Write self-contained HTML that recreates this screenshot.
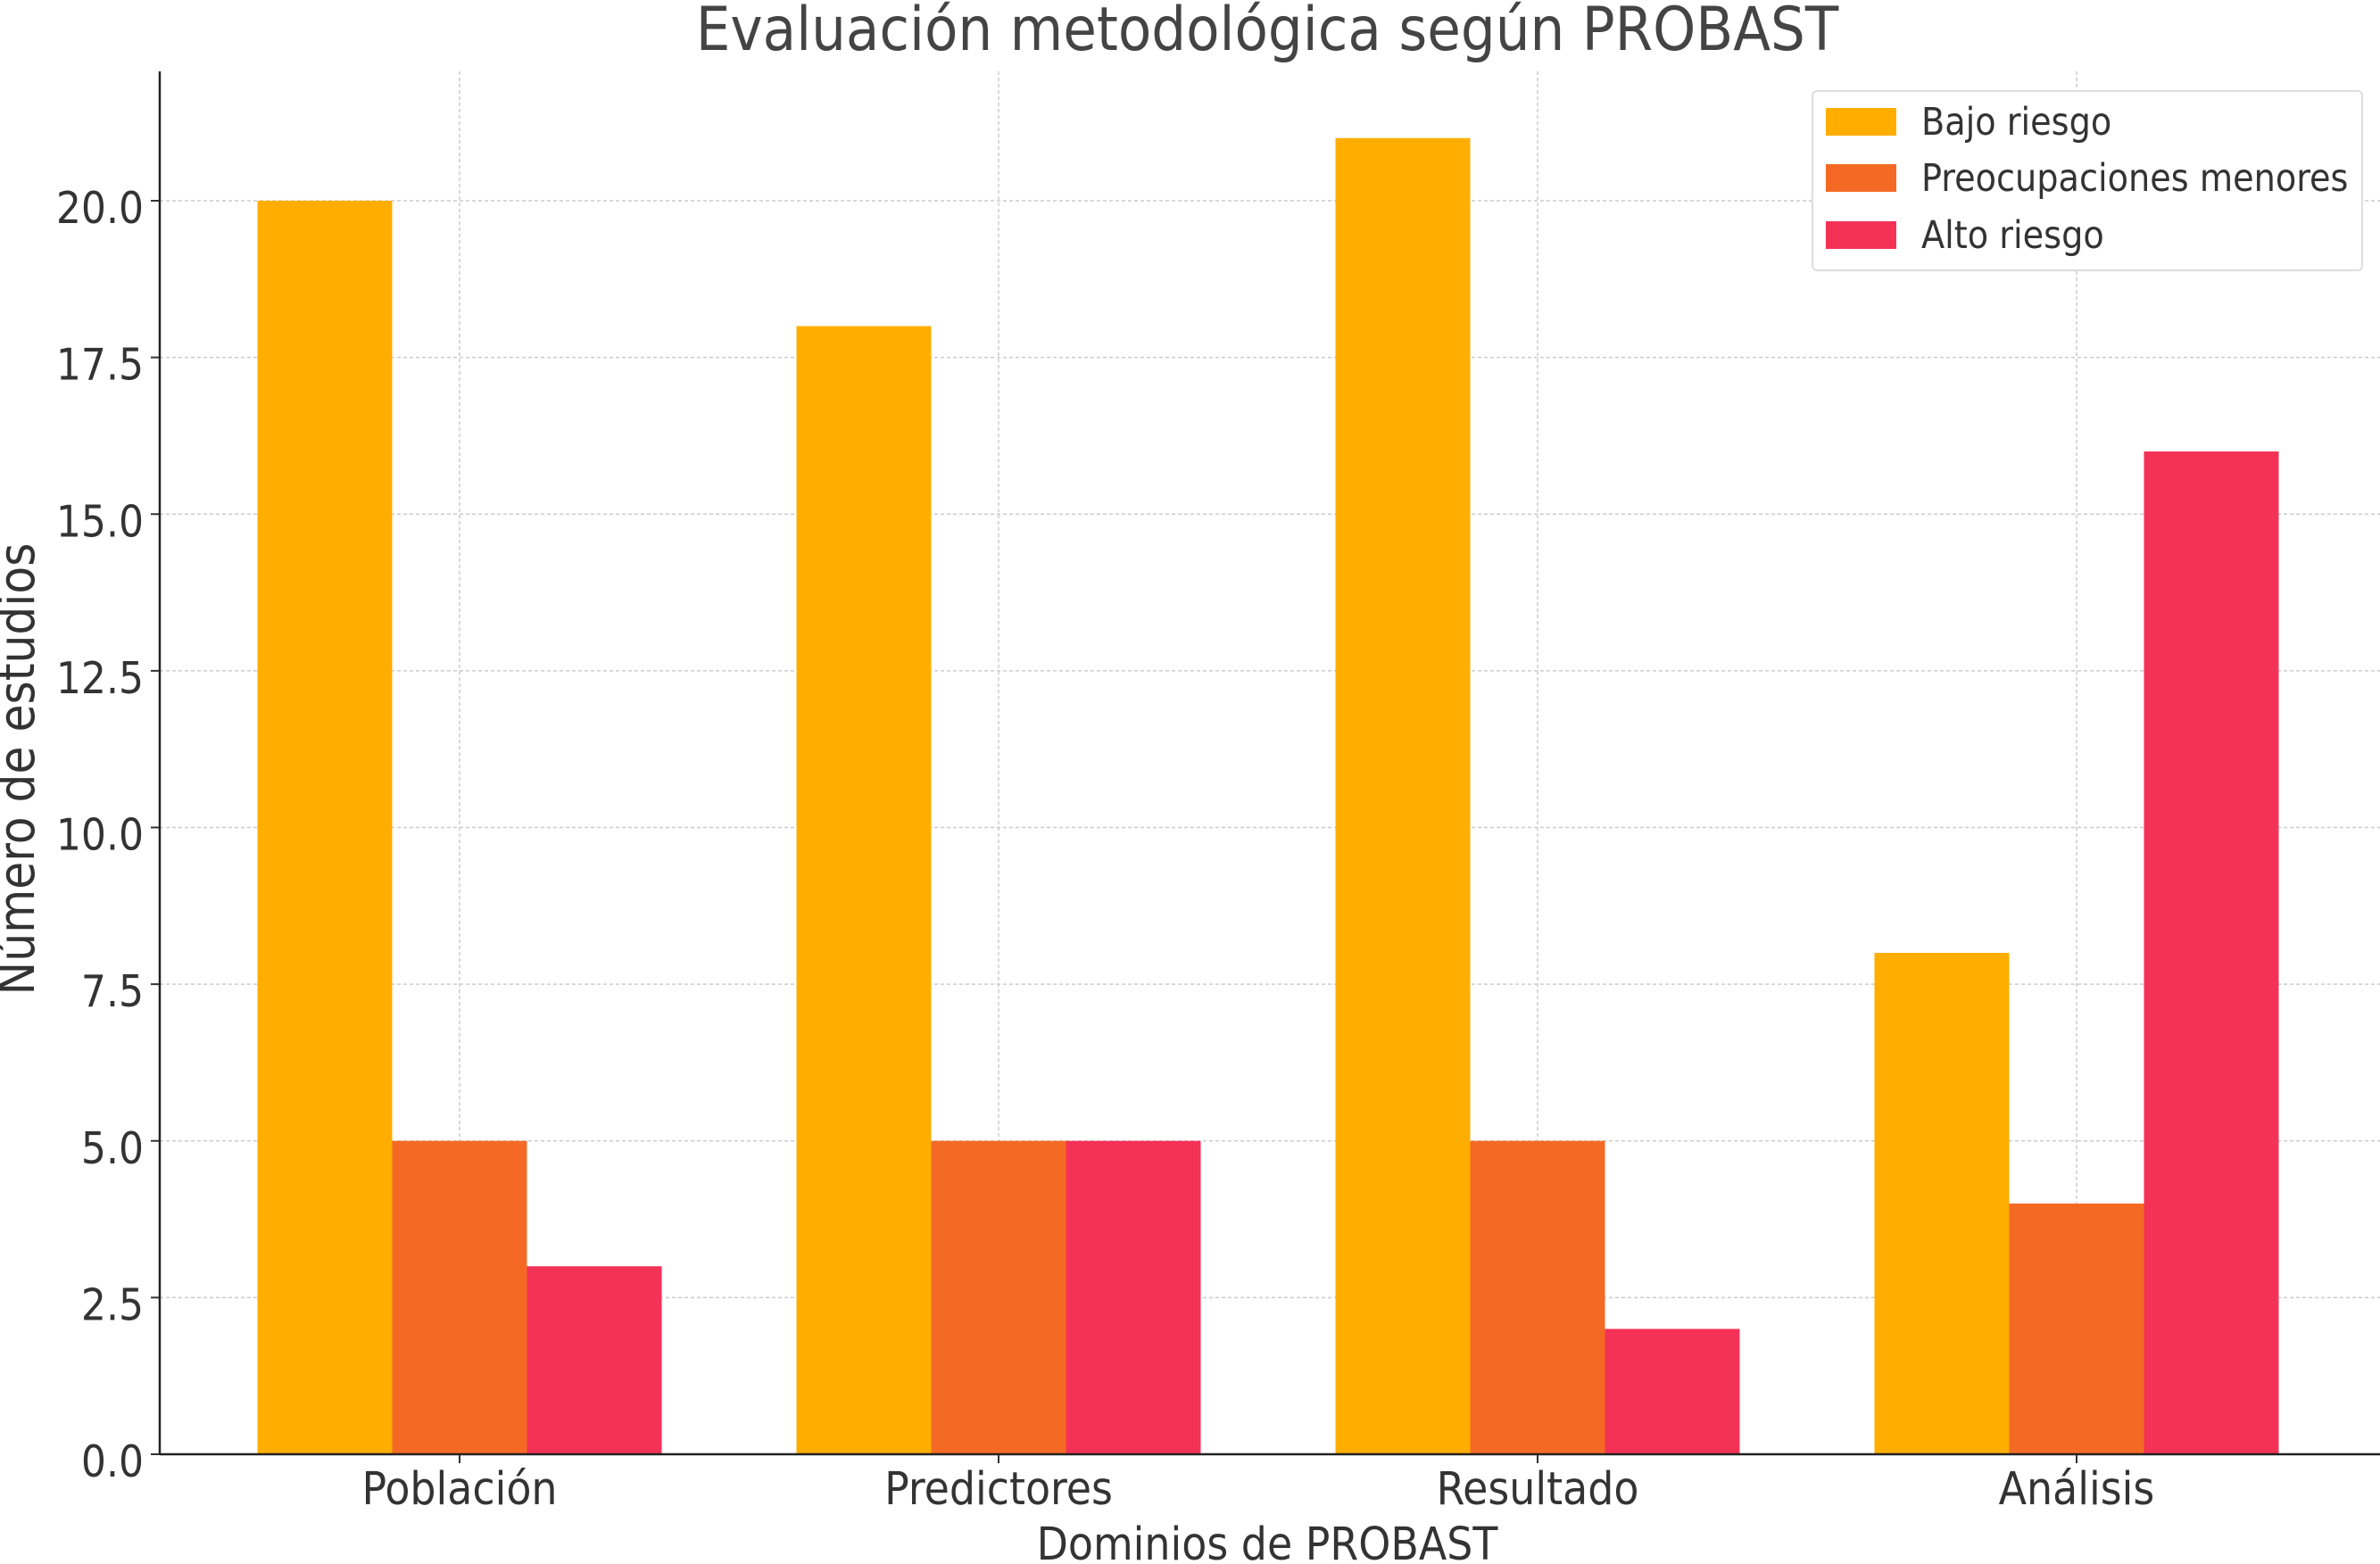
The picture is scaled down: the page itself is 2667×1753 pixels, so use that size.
<!DOCTYPE html>
<html><head><meta charset="utf-8"><style>
html,body{margin:0;padding:0;background:#fff;}
svg{display:block;font-family:"DejaVu Sans Condensed","DejaVu Sans","Liberation Sans",sans-serif;font-stretch:condensed;}
</style></head><body>
<svg id="chart" width="2667" height="1753" viewBox="0 0 2667 1753">
<text x="1420" y="56" font-size="68" fill="#444" text-anchor="middle">Evaluación metodológica según PROBAST</text>
<g id="grid"></g><g id="bars"></g><g id="axes"></g>
<text x="1420" y="1748" font-size="51" fill="#333" text-anchor="middle">Dominios de PROBAST</text>
<text transform="translate(38,862) rotate(-90)" font-size="56" fill="#333" text-anchor="middle">Número de estudios</text>
<g>
<rect x="2031" y="102" width="616" height="201" fill="#fff" stroke="#ddd" stroke-width="2" rx="5"/>
<rect x="2046" y="121" width="79" height="31" fill="#FFAE00"/>
<text x="2153" y="151" font-size="42.5" fill="#333">Bajo riesgo</text>
<rect x="2046" y="184" width="79" height="31" fill="#F46A25"/>
<text x="2153" y="214" font-size="42.5" fill="#333">Preocupaciones menores</text>
<rect x="2046" y="248" width="79" height="31" fill="#F43256"/>
<text x="2153" y="278" font-size="42.5" fill="#333">Alto riesgo</text>
</g>
</svg>
<script>
const categories = ["Población","Predictores","Resultado","Análisis"];
const bajo = [20,18,21,8];
const menores = [5,5,5,4];
const alto = [3,5,2,16];
const yTicks = [0,2.5,5,7.5,10,12.5,15,17.5,20];
const yTickLabels = ["0.0","2.5","5.0","7.5","10.0","12.5","15.0","17.5","20.0"];
const colors = ["#FFAE00","#F46A25","#F43256"];
const seriesNames = ["bajo","menores","alto"];

const NS="http://www.w3.org/2000/svg";
const L=179,R=2667,T=80;
const B=1630;
const y=v=>1630-v*(1630-225)/20;
const x=i=>515+i*604;
const bw=151;
function mk(tag,attrs,parent){const e=document.createElementNS(NS,tag);for(const k in attrs)e.setAttribute(k,attrs[k]);parent.appendChild(e);return e;}
const grid=document.getElementById('grid'),bars=document.getElementById('bars'),axes=document.getElementById('axes');
yTicks.forEach((t,i)=>{
  const g=mk('line',{x1:L,x2:R,y1:y(t),y2:y(t),stroke:'#ccc','stroke-width':1.5,'stroke-dasharray':'4,3'},grid);
  
  
  const tk=mk('line',{x1:L-10,x2:L,y1:y(t),y2:y(t),stroke:'#333','stroke-width':2},axes);
  
  
  const tx=mk('text',{x:L-18,y:y(t)+25,'font-size':49,fill:'#333','text-anchor':'end'},axes);
  tx.textContent=yTickLabels[i];
  
  
});
categories.forEach((c,i)=>{
  const g=mk('line',{x1:x(i),x2:x(i),y1:T,y2:B,stroke:'#ccc','stroke-width':1.5,'stroke-dasharray':'4,3'},grid);
  
  
  const tk=mk('line',{x1:x(i),x2:x(i),y1:B,y2:B+10,stroke:'#333','stroke-width':2},axes);
  
  
  const tx=mk('text',{x:x(i),y:1686,'font-size':51,fill:'#333','text-anchor':'middle'},axes);
  tx.textContent=c;
  
  
  [bajo,menores,alto].forEach((s,j)=>{
    const r=mk('rect',{x:x(i)+(j-1)*bw-bw/2,y:y(s[i]),width:bw,height:B-y(s[i]),fill:colors[j]},bars);
    
    
  });
});
const ax1=mk('line',{x1:L,x2:L,y1:T,y2:B,stroke:'#222','stroke-width':2.5},axes);


const ax2=mk('line',{x1:L,x2:R,y1:B,y2:B,stroke:'#222','stroke-width':2.5},axes);


</script>
</body></html>
